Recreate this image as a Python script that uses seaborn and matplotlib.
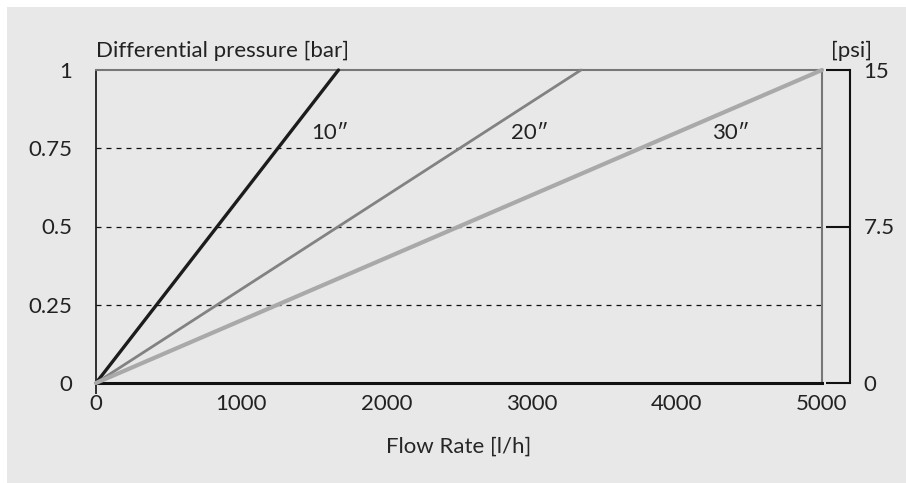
import numpy as np
import pandas as pd
import matplotlib
matplotlib.use("Agg")
import matplotlib.pyplot as plt
import seaborn as sns

#---data: pressure drop per cartridge length (straight lines from origin)
cartridges = ["10\u2033", "20\u2033", "30\u2033"]
flow_at_1bar = [1670, 3340, 5000]          # l/h where each line hits 1 bar
line_colors = ["#1c1c1c", "#828282", "#a9a9a9"]
line_widths = [2.4, 2.0, 3.0]
label_pos = [(1480, 0.80), (2860, 0.80), (4240, 0.80)]

x_ticks = [0, 1000, 2000, 3000, 4000, 5000]
y_ticks = [0, 0.25, 0.5, 0.75, 1]
y_tick_labels = ["0", "0.25", "0.5", "0.75", "1"]
psi_ticks = [0, 7.5, 15]
psi_tick_labels = ["0", "7.5", "15"]

BG = "#e7e8e7"
TXT = "#222222"
FS = 16

rows = []
for name, q in zip(cartridges, flow_at_1bar):
    rows.append({"cartridge": name, "flow": 0, "dp": 0})
    rows.append({"cartridge": name, "flow": q, "dp": 1})
data = pd.DataFrame(rows)

sns.set_theme(style="white")
plt.rcParams["font.family"] = ["Lato", "DejaVu Sans"]
plt.rcParams["text.color"] = TXT
plt.rcParams["xtick.color"] = TXT
plt.rcParams["ytick.color"] = TXT

fig = plt.figure(figsize=(9.06, 4.83), dpi=100)
fig.patch.set_facecolor("white")
# gray panel, white margin at top/left only
fig.patches.append(plt.Rectangle((7 / 906, 0), 1, 1 - 7 / 483, transform=fig.transFigure,
                                 facecolor=BG, edgecolor="none", zorder=-10))

ax = fig.add_axes([96 / 906, 1 - 383 / 483, 726 / 906, 313 / 483])
ax.set_facecolor(BG)

#-dashed grid lines
for yv in y_ticks[1:-1]:
    ax.axhline(yv, color="#111111", lw=0.9, ls=(0, (4, 4)), zorder=1)

for name, col, lw in zip(cartridges, line_colors, line_widths):
    sub = data[data["cartridge"] == name]
    sns.lineplot(data=sub, x="flow", y="dp", color=col, lw=lw, ax=ax, zorder=3, clip_on=False)

for name, (lx, ly) in zip(cartridges, label_pos):
    ax.text(lx, ly, name, fontsize=FS, ha="left", va="center", color=TXT)

ax.set_xlim(0, 5000)
ax.set_ylim(0, 1)
ax.set_xticks(x_ticks)
ax.set_xticklabels([str(v) for v in x_ticks])
ax.set_yticks(y_ticks)
ax.set_yticklabels(y_tick_labels)
ax.tick_params(axis="both", length=0, labelsize=FS)
ax.tick_params(axis="y", pad=17)
ax.tick_params(axis="x", pad=8)
#-small tick under the origin only
ax.xaxis.remove_overlapping_locs = False
ax.set_xticks([0], minor=True)
ax.tick_params(axis="x", which="minor", bottom=True, length=8, width=1.2,
               direction="out", color="#111111")
ax.set_xlabel("Flow Rate [l/h]", fontsize=FS, labelpad=16)
ax.set_ylabel("")

for side in ["left", "bottom"]:
    ax.spines[side].set_color("#111111")
ax.spines["left"].set_linewidth(1.2)
ax.spines["bottom"].set_linewidth(2.2)
for side in ["top", "right"]:
    ax.spines[side].set_visible(True)
    ax.spines[side].set_color("#777777")
    ax.spines[side].set_linewidth(1.5)

ax.text(0, 1.03, "Differential pressure [bar]", transform=ax.transAxes,
        fontsize=FS, ha="left", va="bottom")

#-secondary psi scale
ax2 = ax.twinx()
ax2.set_ylim(0, 15)
ax2.set_yticks(psi_ticks)
ax2.set_yticklabels(psi_tick_labels)
for side in ["top", "bottom", "left"]:
    ax2.spines[side].set_visible(False)
ax2.spines["right"].set_position(("outward", 20))
ax2.spines["right"].set_color("#111111")
ax2.spines["right"].set_linewidth(1.5)
ax2.tick_params(axis="y", direction="in", length=17, width=1.5, color="#111111",
                labelsize=FS, pad=10)
ax2.grid(False)
ax2.text(1.012, 1.03, "[psi]", transform=ax.transAxes, fontsize=FS, ha="left", va="bottom")

fig.savefig("out.png", dpi=100, facecolor=fig.get_facecolor())
